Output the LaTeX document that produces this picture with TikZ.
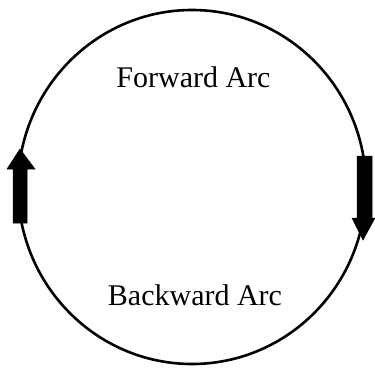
\documentclass[tikz,border=0pt]{standalone}
\usepackage{fontspec}
\setmainfont{Liberation Serif}
\begin{document}
\begin{tikzpicture}[x=1pt,y=-1pt,
  ring/.style={line width=2.6pt},
  arrowshape/.style={fill=black,draw=black,line width=0.5pt,line join=miter},
  label/.style={font=\fontsize{30}{36}\selectfont,inner sep=0pt,anchor=base}]
\useasboundingbox (0,0) rectangle (375,367);
\draw[ring] (192,187) ellipse [x radius=174, y radius=177];
% left arrow (upward)
\fill[arrowshape] (13,223) -- (13,169) -- (7,169) -- (20,149) -- (35,169) -- (27,169) -- (27,223) -- cycle;
% right arrow (downward)
\fill[arrowshape] (357,156) -- (357,218) -- (352,218) -- (363,240) -- (375,218) -- (372,218) -- (372,156) -- cycle;
\node[label] (fwd) at (193.5,87) {Forward Arc};
\node[label] (bwd) at (195,305) {Backward Arc};
\end{tikzpicture}
\end{document}
